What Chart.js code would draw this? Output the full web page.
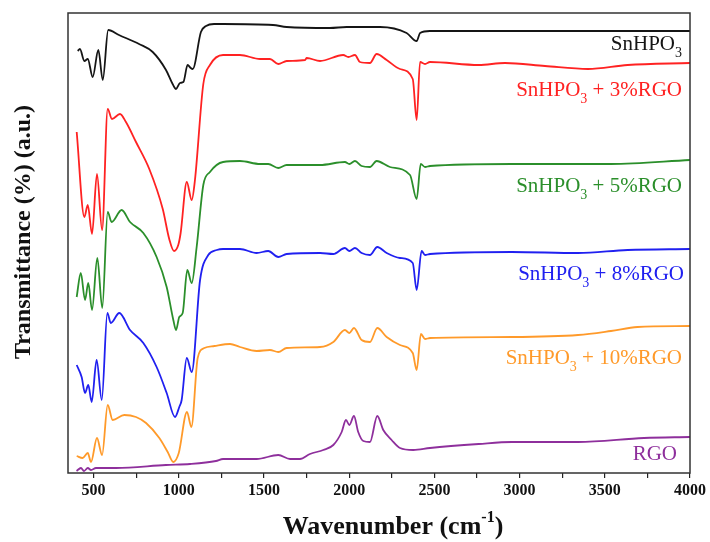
<!DOCTYPE html>
<html>
<head>
<meta charset="utf-8">
<script src="https://cdn.jsdelivr.net/npm/chart.js@4.4.0/dist/chart.umd.min.js"></script>
<style>
  html, body { margin: 0; padding: 0; background: #fff; }
  #wrap { width: 710px; height: 542px; }
</style>
</head>
<body>
<div id="wrap"><canvas id="ftir" width="710" height="542"></canvas></div>
<script>
// FTIR spectra, wavenumber (cm-1) vs transmittance (arbitrary offset units)
const snWn = [407,420,446,466,495,528,554,586,649,767,847,925,964,984,1007,1027,1052,1070,1082,1130,1160,1207,1260,1553,1633,1887,1985,2181,2337,2396,2416,2474,2760,3536,4000];
const snT  = [422,424,412,414,396,423,393,443,438,429,421,403,389,384,390,391,408,405,404,441,447,449,449,448,446,445,446,446,440,432,440,442,442,442,442];

const rgo3Wn = [401,446,466,491,520,550,583,608,655,690,749,827,906,944,972,997,1011,1047,1076,1095,1144,1183,1260,1359,1477,1535,1584,1633,1741,1751,1829,1965,1995,2034,2063,2122,2161,2220,2298,2373,2396,2416,2445,2474,2760,2914,3149,3401,3634,4000];
const rgo3T  = [341,256,268,239,299,243,364,354,359,351,331,304,264,234,222,228,240,291,273,293,389,408,418,418,414,414,409,412,413,415,412,418,416,418,411,410,419,413,404,394,353,411,409,411,408,410,407,404,408,410];

const rgo5Wn = [401,425,450,469,491,522,551,583,606,665,714,792,870,929,968,984,1003,1023,1050,1076,1105,1144,1183,1260,1359,1477,1525,1584,1633,1829,1975,2001,2034,2073,2122,2161,2239,2357,2396,2420,2445,2474,2954,3536,4000];
const rgo5T  = [176,200,173,190,163,215,165,261,251,263,251,240,216,186,153,143,156,160,203,190,226,288,301,311,312,309,309,305,308,308,311,309,312,307,306,312,306,298,274,309,306,307,309,309,313];

const rgo8Wn = [401,430,450,469,489,518,548,581,601,651,714,792,870,929,978,1003,1017,1047,1076,1125,1173,1223,1260,1359,1457,1525,1584,1633,1829,1907,1975,2001,2034,2073,2122,2165,2220,2298,2373,2396,2425,2445,2474,2954,3343,3634,4000];
const rgo8T  = [108,96,80,88,71,113,73,160,150,160,143,130,106,80,56,66,73,115,101,193,218,223,224,224,220,222,216,219,220,219,225,222,225,220,218,226,220,215,210,183,222,218,219,221,220,223,224];

const rgo10Wn = [401,436,466,485,520,550,583,612,680,749,808,886,935,968,1000,1048,1074,1111,1150,1209,1301,1359,1457,1535,1584,1633,1829,1907,1975,2001,2028,2073,2122,2165,2220,2298,2373,2396,2421,2445,2474,2954,3343,3536,3692,4000];
const rgo10T  = [17,15,20,11,35,18,68,53,58,56,50,35,21,11,20,61,46,115,125,127,129,126,122,123,121,125,126,131,143,140,145,133,131,145,136,128,120,103,139,134,135,136,138,142,146,147];

const rgoWn = [400,426,444,466,485,514,632,925,1066,1218,1260,1457,1584,1653,1711,1770,1848,1907,1956,1981,2001,2028,2053,2083,2122,2165,2200,2249,2298,2376,2474,2760,2954,3343,3730,4000];
const rgoT  = [2,5,2,5,3,5,5,8,9,12,14,14,18,14,14,19,23,28,41,53,48,57,41,32,31,57,43,33,25,23,25,29,31,31,35,36];

const xTicks = [500,750,1000,1250,1500,1750,2000,2250,2500,2750,3000,3250,3500,3750,4000];

// label text: [before subscript, subscript, after]
const seriesLabels = [
	['SnHPO', '3', ''],
	['SnHPO', '3', ' + 3%RGO'],
	['SnHPO', '3', ' + 5%RGO'],
	['SnHPO', '3', ' + 8%RGO'],
	['SnHPO', '3', ' + 10%RGO'],
	['RGO', '', '']
];
const seriesColors = ['#151515', '#ff2222', '#2b8f2b', '#2020f0', '#ff9a2a', '#8e2f9c'];

const toPoints = (wn, t) => wn.map((w, i) => ({ x: w, y: t[i] }));
const serif = '"Liberation Serif", "Times New Roman", serif';

const labelPlugin = {
	id: 'labels',
	afterDraw(chart) {
		const ctx = chart.ctx;
		const a = chart.chartArea;
		ctx.save();
		// plot frame
		ctx.strokeStyle = '#333';
		ctx.lineWidth = 1.5;
		ctx.strokeRect(a.left, a.top, a.right - a.left, a.bottom - a.top);

		// series labels, right aligned, with subscript
		const baselines = [50, 96, 192, 280, 364, 460];
		const rightEdges = [682, 682, 682, 684, 682, 677];
		ctx.textBaseline = 'alphabetic';
		ctx.textAlign = 'left';
		seriesLabels.forEach((parts, i) => {
			ctx.font = '21px ' + serif;
			const w1 = ctx.measureText(parts[0]).width;
			const w3 = ctx.measureText(parts[2]).width;
			ctx.font = '14px ' + serif;
			const w2 = ctx.measureText(parts[1]).width;
			let x = rightEdges[i] - (w1 + w2 + w3);
			const y = baselines[i];
			ctx.fillStyle = seriesColors[i];
			ctx.font = '21px ' + serif;
			ctx.fillText(parts[0], x, y);
			x += w1;
			ctx.font = '14px ' + serif;
			ctx.fillText(parts[1], x, y + 7);
			x += w2;
			ctx.font = '21px ' + serif;
			ctx.fillText(parts[2], x, y);
		});

		// axis titles
		ctx.fillStyle = '#111';
		ctx.font = 'bold 26px ' + serif;
		const t1 = 'Wavenumber (cm', t2 = '-1', t3 = ')';
		const w1 = ctx.measureText(t1).width, w3 = ctx.measureText(t3).width;
		ctx.font = 'bold 16px ' + serif;
		const w2 = ctx.measureText(t2).width;
		let x = 393 - (w1 + w2 + w3) / 2;
		ctx.font = 'bold 26px ' + serif;
		ctx.fillText(t1, x, 534);
		x += w1;
		ctx.font = 'bold 16px ' + serif;
		ctx.fillText(t2, x, 522);
		x += w2;
		ctx.font = 'bold 26px ' + serif;
		ctx.fillText(t3, x, 534);

		ctx.translate(24, 232);
		ctx.rotate(-Math.PI / 2);
		ctx.textAlign = 'center';
		ctx.textBaseline = 'middle';
		ctx.font = 'bold 24px ' + serif;
		ctx.fillText('Transmittance (%) (a.u.)', 0, 0);
		ctx.restore();
	}
};

const datasets = [
	toPoints(snWn, snT),
	toPoints(rgo3Wn, rgo3T),
	toPoints(rgo5Wn, rgo5T),
	toPoints(rgo8Wn, rgo8T),
	toPoints(rgo10Wn, rgo10T),
	toPoints(rgoWn, rgoT)
].map((pts, i) => ({
	label: seriesLabels[i].join(''),
	data: pts,
	borderColor: seriesColors[i],
	borderWidth: 1.8,
	pointRadius: 0,
	fill: false,
	cubicInterpolationMode: 'monotone'
}));

new Chart(document.getElementById('ftir'), {
	type: 'line',
	data: { datasets },
	options: {
		responsive: false,
		animation: false,
		layout: { padding: { left: 0, top: 13, right: 20, bottom: 0 } },
		plugins: { legend: { display: false }, tooltip: { enabled: false } },
		scales: {
			x: {
				type: 'linear',
				min: 350,
				max: 4000,
				afterBuildTicks: (scale) => { scale.ticks = xTicks.map(v => ({ value: v })); },
				afterFit: (scale) => { scale.height = 69; },
				border: { display: false },
				grid: { drawOnChartArea: false, drawTicks: true, tickLength: 5, color: '#222', lineWidth: 1.2 },
				ticks: {
					autoSkip: false,
					maxRotation: 0,
					padding: 3,
					color: '#111',
					font: { family: serif, size: 16, weight: 'bold' },
					callback: (v) => (v % 500 === 0 ? String(v) : '')
				}
			},
			y: {
				min: 0,
				max: 460,
				afterFit: (scale) => { scale.width = 68; },
				border: { display: false },
				grid: { display: false },
				ticks: { display: false }
			}
		}
	},
	plugins: [labelPlugin]
});
</script>
</body>
</html>
